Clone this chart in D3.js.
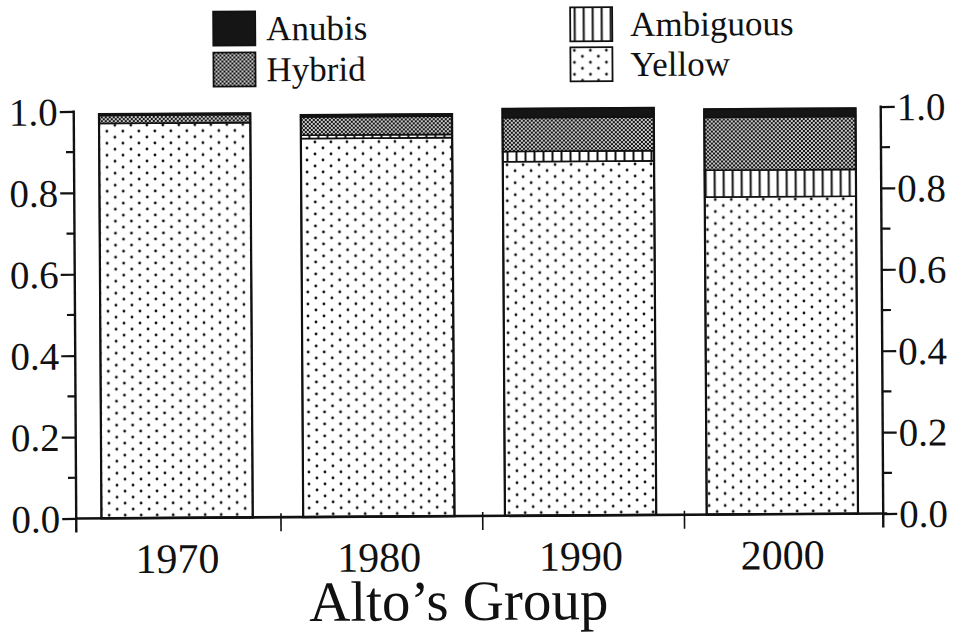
<!DOCTYPE html>
<html>
<head>
<meta charset="utf-8">
<script src="https://cdn.jsdelivr.net/npm/d3@7/dist/d3.min.js"></script>
<style>
  html, body { margin: 0; padding: 0; background: #fff; }
  svg text { font-family: "Liberation Serif", "Times New Roman", serif; fill: #111; }
</style>
</head>
<body>
<svg id="chart" width="959" height="634"></svg>
<script>
// Decades sampled and the share of each phenotype class per decade
const years = ["1970", "1980", "1990", "2000"];
const yellow = [0.97, 0.93, 0.87, 0.78];
const ambiguous = [0.0, 0.008, 0.025, 0.066];
const hybrid = [0.02, 0.045, 0.083, 0.13];
const anubis = [0.003, 0.005, 0.022, 0.02];
const yTicks = [0, 0.2, 0.4, 0.6, 0.8, 1.0];
const yMinorTicks = [0.1, 0.3, 0.5, 0.7, 0.9];
const seriesKeys = ["Yellow", "Ambiguous", "Hybrid", "Anubis"];
const chartTitle = "Alto\u2019s Group";

(function () {
const rows = years.map((yr, i) => ({
  year: yr, Yellow: yellow[i], Ambiguous: ambiguous[i], Hybrid: hybrid[i], Anubis: anubis[i]
}));

const svg = d3.select("#chart");
const defs = svg.append("defs");

// Fill patterns
const pDots = defs.append("pattern").attr("id", "pat-yellow")
  .attr("patternUnits", "userSpaceOnUse").attr("width", 16).attr("height", 12);
pDots.append("rect").attr("width", 16).attr("height", 12).attr("fill", "#fff");
pDots.append("circle").attr("cx", 4).attr("cy", 3).attr("r", 1.4).attr("fill", "#111");
pDots.append("circle").attr("cx", 12).attr("cy", 9).attr("r", 1.4).attr("fill", "#111");

const pLines = defs.append("pattern").attr("id", "pat-ambiguous")
  .attr("patternUnits", "userSpaceOnUse").attr("width", 9).attr("height", 9);
pLines.append("rect").attr("width", 9).attr("height", 9).attr("fill", "#fff");
pLines.append("rect").attr("x", 3.5).attr("width", 2).attr("height", 9).attr("fill", "#111");

const pCheck = defs.append("pattern").attr("id", "pat-hybrid")
  .attr("patternUnits", "userSpaceOnUse").attr("width", 4).attr("height", 4);
pCheck.append("rect").attr("width", 4).attr("height", 4).attr("fill", "#c8c8c8");
pCheck.append("rect").attr("width", 2).attr("height", 2).attr("fill", "#151515");
pCheck.append("rect").attr("x", 2).attr("y", 2).attr("width", 2).attr("height", 2).attr("fill", "#151515");

const fills = {
  Yellow: "url(#pat-yellow)",
  Ambiguous: "url(#pat-ambiguous)",
  Hybrid: "url(#pat-hybrid)",
  Anubis: "#151515"
};

// Whole figure sits on a very slight tilt
const root = svg.append("g").attr("transform", "rotate(-0.35 479 317)");

const plotLeft = 75, plotRight = 882, plotTop = 109, plotBottom = 516;

const x = d3.scaleBand().domain(years).range([plotLeft, plotRight]).paddingInner(0.25).paddingOuter(0.125);
const xb = d3.scaleBand().domain(years).range([plotLeft, plotRight]);
const y = d3.scaleLinear().domain([0, 1]).range([plotBottom, plotTop]);

// Stacked bars
const stacked = d3.stack().keys(seriesKeys)(rows);
const layers = root.append("g").selectAll("g").data(stacked).join("g")
  .attr("fill", d => fills[d.key]);
layers.selectAll("rect").data(d => d.map(v => ({ v, key: d.key })))
  .join("rect")
  .attr("x", d => x(d.v.data.year))
  .attr("width", x.bandwidth())
  .attr("y", d => y(d.v[1]))
  .attr("height", d => Math.max(0, y(d.v[0]) - y(d.v[1])))
  .attr("stroke", "#111").attr("stroke-width", 1.6);

// Outline around each bar
const total = d => d.Yellow + d.Ambiguous + d.Hybrid + d.Anubis;
root.append("g").selectAll("rect").data(rows).join("rect")
  .attr("x", d => x(d.year)).attr("width", x.bandwidth())
  .attr("y", d => y(total(d)))
  .attr("height", d => plotBottom - y(total(d)))
  .attr("fill", "none").attr("stroke", "#111").attr("stroke-width", 2.2);

// Value axes on both sides
const axL = root.append("g").attr("transform", `translate(${plotLeft},0)`);
axL.call(d3.axisLeft(y).tickValues(yTicks).tickFormat(d3.format(".1f")).tickSize(14).tickPadding(2));
const axR = root.append("g").attr("transform", `translate(${plotRight},0)`);
axR.call(d3.axisRight(y).tickValues(yTicks).tickFormat(d3.format(".1f")).tickSize(14).tickPadding(2));
[axL, axR].forEach((ax, k) => {
  ax.select(".domain").remove();
  ax.selectAll("line").attr("stroke", "#111").attr("stroke-width", 2.2);
  ax.selectAll("text").attr("font-size", 39).attr("fill", "#111")
    .attr("font-family", "Liberation Serif").attr("dy", "0.34em");
  ax.append("g").selectAll("line").data(yMinorTicks).join("line")
    .attr("x1", 0).attr("x2", k === 0 ? -8 : 9)
    .attr("y1", d => y(d)).attr("y2", d => y(d))
    .attr("stroke", "#111").attr("stroke-width", 2.2);
  ax.append("line").attr("x1", 0).attr("x2", 0).attr("y1", plotTop - 1).attr("y2", plotBottom + 14)
    .attr("stroke", "#111").attr("stroke-width", 2.4);
});

// Baseline with category separators
const axB = root.append("g");
axB.append("line").attr("x1", plotLeft).attr("x2", plotRight + 4).attr("y1", plotBottom).attr("y2", plotBottom)
  .attr("stroke", "#111").attr("stroke-width", 2.6);
axB.selectAll("line.sep").data(years.slice(1)).join("line").attr("class", "sep")
  .attr("x1", d => xb(d) + 3).attr("x2", d => xb(d) + 3)
  .attr("y1", plotBottom - 4).attr("y2", plotBottom + 14)
  .attr("stroke", "#111").attr("stroke-width", 1.6);
axB.selectAll("text").data(years).join("text")
  .attr("x", d => x(d) + x.bandwidth() / 2).attr("y", 571)
  .attr("text-anchor", "middle").attr("font-size", 42).text(d => d);

root.append("text").attr("x", 457).attr("y", 620).attr("text-anchor", "middle")
  .attr("font-size", 57).text(chartTitle);

// Legend
const legendItems = [
  { key: "Anubis", x: 215, y: 10 },
  { key: "Hybrid", x: 215, y: 51 },
  { key: "Ambiguous", x: 572, y: 8 },
  { key: "Yellow", x: 572, y: 48 }
];
const lg = root.append("g").selectAll("g").data(legendItems).join("g")
  .attr("transform", d => `translate(${d.x},${d.y})`);
lg.append("rect").attr("width", 42).attr("height", 34)
  .attr("fill", d => fills[d.key]).attr("stroke", "#111").attr("stroke-width", 1.8);
lg.append("text").attr("x", d => d.x < 400 ? 53 : 60).attr("y", 29)
  .attr("font-size", 35).text(d => d.key);
})();
</script>
</body>
</html>
